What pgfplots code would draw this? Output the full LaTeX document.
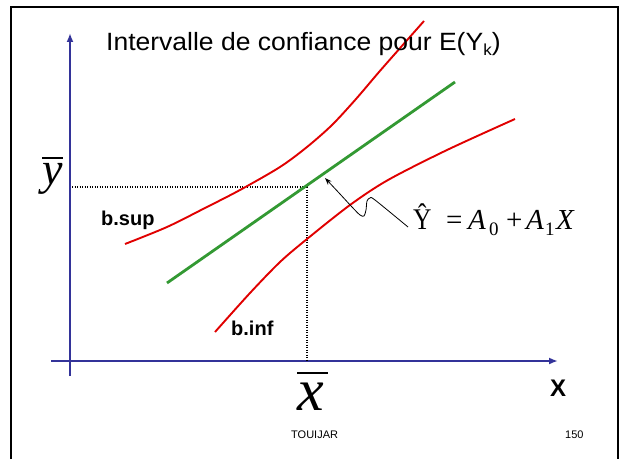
\documentclass[border=0pt]{standalone}
\usepackage{fontspec}
\setmainfont{Liberation Sans}
\newfontfamily\tnr{Liberation Serif}
\usepackage{pgfplots}
\pgfplotsset{compat=1.18}
\usetikzlibrary{arrows.meta}

\definecolor{ired}{RGB}{224,0,0}
\definecolor{igreen}{RGB}{51,153,51}
\definecolor{iblue}{RGB}{51,51,153}
\tikzset{lbl/.style={anchor=base west, inner sep=0pt}}

\begin{document}
\begin{tikzpicture}
\begin{axis}[
    hide axis, scale only axis,
    width=620pt, height=459pt,
    xmin=0, xmax=620, ymin=0, ymax=459,
    y dir=reverse, clip=false,
]
% page extent and slide frame
\addplot[draw=none] coordinates {(0,0)(620,459)};
\addplot[black, line width=2pt, line join=miter] coordinates {(11,459)(11,7)(618,7)(618,459)};

% axes
\addplot[iblue, line width=2.6pt, -{Latex[length=9pt,width=7pt]}] coordinates {(70,376)(70,33)};
\addplot[iblue, line width=2.6pt, -{Latex[length=9pt,width=7pt]}] coordinates {(51,361)(558,361)};

% mean guides
\addplot[black, line width=1.2pt, dash pattern=on 1.2pt off 1.3pt] coordinates {(72,187)(307,187)(307,360)};

% regression line
\addplot[igreen, line width=2.8pt] coordinates {(167,283)(455,82)};

% b.sup
\addplot[ired, line width=1.9pt, smooth] coordinates {
  (125,244)(167,227)(205,208)(240,190)(280,167)(307,147)
  (332,125)(356,99)(379,72)(401,47)(424,21)};
% b.inf
\addplot[ired, line width=1.9pt, smooth] coordinates {
  (215,332)(250,293)(280,262)(307,239)(350,205)(388,180)
  (447,150)(515,119)};

% pointer to the line
\addplot[black, line width=0.8pt, smooth, tension=0.5, {Stealth[length=7pt,width=5pt]}-] coordinates {
  (325,178)(340,194)(352,207)(360,215)(364,216)(366,210)(367,201)(370,198)(375,200)(408,227)};

% texts
\node[lbl] at (axis cs:106,50)
  {\scalebox{1.06}[1]{\fontsize{25}{29}\selectfont Intervalle de confiance pour E(Y\raisebox{-6pt}{\fontsize{16}{16}\selectfont k})}};
\node[lbl] at (axis cs:101,225) {\fontsize{20}{24}\selectfont\bfseries b.sup};
\node[lbl] at (axis cs:231,335) {\fontsize{20}{24}\selectfont\bfseries b.inf};
\node[lbl] at (axis cs:550,396) {\fontsize{24}{28}\selectfont\bfseries X};
\node[lbl] at (axis cs:291,438) {\fontsize{11}{13}\selectfont TOUIJAR};
\node[lbl] at (axis cs:565,438) {\fontsize{11}{13}\selectfont 150};
\node[lbl] at (axis cs:42,184)
  {\tnr\itshape\fontsize{46}{50}\selectfont\makebox[0pt][l]{\raisebox{25pt}{\rule{21pt}{2pt}}}y};
\node[lbl] at (axis cs:297,410)
  {\tnr\itshape\fontsize{60}{64}\selectfont\makebox[0pt][l]{\raisebox{36pt}{\rule{31pt}{2.2pt}}}x};
% formula
\node[lbl] at (axis cs:413,229) {\tnr\fontsize{30}{32}\selectfont\scalebox{0.85}[1]{Ŷ}};
\node[lbl] at (axis cs:446,229) {\tnr\fontsize{29}{32}\selectfont =};
\node[lbl] at (axis cs:468,229) {\tnr\itshape\fontsize{29}{32}\selectfont A};
\node[lbl] at (axis cs:489,235) {\tnr\fontsize{19}{20}\selectfont 0};
\node[lbl] at (axis cs:506,229) {\tnr\fontsize{29}{32}\selectfont +};
\node[lbl] at (axis cs:526,229) {\tnr\itshape\fontsize{29}{32}\selectfont A};
\node[lbl] at (axis cs:545,235) {\tnr\fontsize{19}{20}\selectfont 1};
\node[lbl] at (axis cs:556,229) {\tnr\itshape\fontsize{29}{32}\selectfont X};
\end{axis}
\end{tikzpicture}
\end{document}
